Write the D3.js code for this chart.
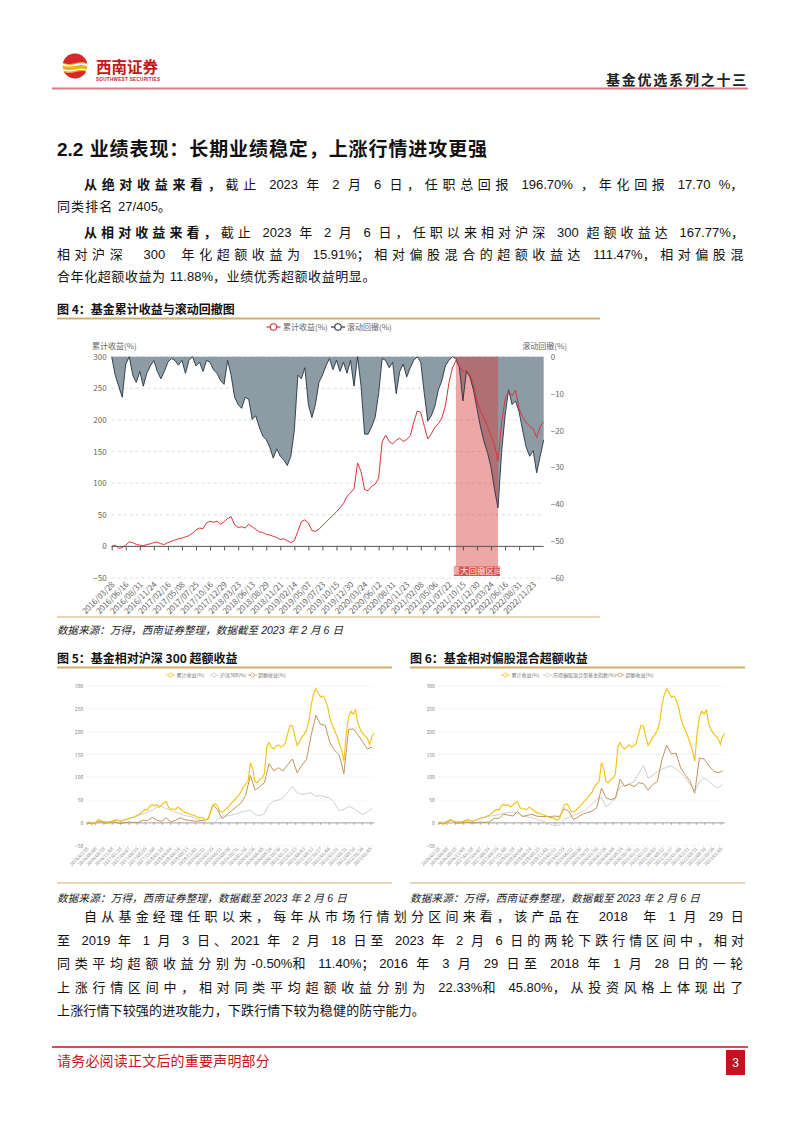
<!DOCTYPE html>
<html lang="zh-CN"><head><meta charset="utf-8">
<title>基金累计收益与滚动回撤</title>
<script src="https://cdn.jsdelivr.net/npm/d3@7/dist/d3.min.js"></script>
<style>
html,body{margin:0;padding:0;background:#fff;}
svg{display:block;}
text{white-space:pre;}
</style></head><body>
<svg id="page" width="802" height="1133" viewBox="0 0 802 1133"></svg>
<script>
// ================= DATA =================
// fund cumulative return (%), one value per sample (124 samples, 2016/03/28 .. 2023/02/06)
const cumReturn = [
 0,2,-3,-2,2,7,6,3,2,1,
 3,4,6,7,4,3,6,8,10,12,
 13,15,17,21,26,29,28,37,40,38,
 40,35,39,44,47,34,30,31,29,35,
 31,27,23,22,19,18,16,14,11,12,
 9,6,9,24,39,42,37,25,24,27,
 33,38,44,49,55,61,68,79,85,91,
 132,118,90,88,95,98,108,165,176,166,
 162,168,171,166,169,175,196,214,212,190,
 170,178,188,194,203,222,258,282,294,285,
 276,278,271,256,230,214,203,190,175,160,
 135,195,232,245,238,247,218,205,196,190,
 186,172,190,197];
// rolling drawdown (%), same samples
const drawdown = [
 0,-5,-8,-11,-2,0,-5,-7,-4,-8,
 -4.5,-2.5,-1,-4,-6,-4,-1.5,-0.5,-1,-2.3,
 -1,-4.5,-1,0,-2.5,-1.5,-4,-1,-1.5,-3.6,
 -4.5,-6.5,-7.5,-1,-5,-11,-13,-14,-11,-11.5,
 -17,-16,-19,-21.5,-22.5,-24.5,-27.5,-25,-27,-28,
 -29.5,-27,-20,-5,-6,-3,-13,-16.5,-13,-7,
 -5,-2.5,-0.5,-3.5,-1,-4,-1.5,-4.5,-1,-8,
 0,-8,-21,-21,-19,-16.5,-10,-0.5,-1,-3,
 -1.5,-10,-4,-2,-5.5,-3,-1,0,-1.5,-10,
 -17.5,-16,-13.5,-9,-6.5,-2.5,-1,0,-0.5,-3,
 -12,-4,-5.5,-9,-14,-19,-23,-26,-30,-36,
 -41,-26,-16,-9,-13,-12,-15,-20,-24.5,-27,
 -25.5,-31.5,-27,-22.6];
// every second sample (62 values)
const hs300 = [
 0,-1,1,3,3,2,4,5,6,8, 12,16,20,23,28,34,36,31,28,23,
 20,16,14,12,7,3,0,-4,8,15, 15,17,20,24,25,28,18,16,20,40,
 48,50,55,68,80,66,62,64,66,58, 60,57,54,44,26,30,36,32,25,18,
 24,32];
const excessVsHs300 = [
 0,-2,1,3,-1,1,2,-1,0,2, 1,1,6,5,12,6,3,11,2,6,
 11,7,5,4,4,6,9,40,29,9, 18,27,35,44,60,104,72,79,88,130,
 114,121,114,128,140,110,126,139,192,236, 216,214,176,159,149,108,205,206,193,178,
 162,166];
const mixFundIndex = [
 0,-1,-2,1,3,3,4,4,6,8, 12,15,16,18,21,23,24,22,16,13,
 12,8,5,2,-3,-6,-5,8,12,17, 20,25,32,42,52,56,35,44,54,80,
 82,86,90,108,126,98,104,112,118,122, 125,118,110,98,84,70,90,98,92,82,
 76,84];
const excessVsMix = [
 0,-2,4,5,-1,0,2,0,0,2, 1,2,10,10,19,17,15,25,14,16,
 19,15,14,14,14,15,14,31,25,7, 13,19,23,26,33,76,55,51,54,96,
 80,85,79,88,86,72,84,91,140,170, 151,153,120,105,91,65,142,140,126,114,
 110,114];
const fig4Dates = ["2016/03/28","2016/06/16","2016/08/31","2016/11/24","2017/02/16","2017/05/08","2017/07/25","2017/10/16","2017/12/29","2018/03/23","2018/06/13","2018/08/29","2018/11/21","2019/02/14","2019/05/07","2019/07/23","2019/10/15","2019/12/30","2020/03/24","2020/06/12","2020/08/31","2020/11/23","2021/02/08","2021/05/06","2021/07/22","2021/10/15","2021/12/30","2022/03/24","2022/06/16","2022/08/31","2022/11/23"];
const fig56Dates = ["2016/03/28","2016/06/08","2016/08/18","2016/11/08","2017/01/18","2017/04/07","2017/06/19","2017/08/29","2017/11/08","2018/01/18","2018/04/04","2018/06/14","2018/08/23","2018/11/01","2019/01/11","2019/03/29","2019/06/11","2019/08/20","2019/10/31","2020/01/10","2020/03/26","2020/06/05","2020/08/14","2020/10/30","2021/01/11","2021/03/23","2021/06/03","2021/08/12","2021/10/27","2022/01/06","2022/03/21","2022/05/31","2022/08/10","2022/10/26","2023/01/05"];
const fig4LeftTicks = [300,250,200,150,100,50,0,-50];
const fig4RightTicks = [0,-10,-20,-30,-40,-50,-60];
const fig56Ticks = [300,250,200,150,100,50,0,-50];
const maxDrawdownSpan = [98, 110]; // sample index of peak and trough

// ================= PAGE =================
const svg = d3.select("#page");
const BODY = "'Liberation Sans','Noto Sans CJK SC',sans-serif";
const SANS = "'Noto Sans CJK SC','Noto Sans',sans-serif";
const STRETCH = /[\u2e80-\u9fff\u3000-\u303f\uff00-\uffef ]+|[^\u2e80-\u9fff\u3000-\u303f\uff00-\uffef ]+/g;
const ISSTRETCH = /^[\u2e80-\u9fff\u3000-\u303f\uff00-\uffef ]/;

function textLine(x, y, segs, o) {
  o = o || {};
  const t = svg.append("text").attr("x", x).attr("y", y)
    .attr("font-family", o.family || BODY).attr("font-size", o.size || 13)
    .attr("fill", o.color || "#111");
  if (o.italic) t.attr("font-style", "italic");
  if (o.weight) t.attr("font-weight", o.weight);
  if (o.anchor) t.attr("text-anchor", o.anchor);
  segs.forEach(s => {
    const str = typeof s === "string" ? s : s.t;
    (str.match(STRETCH) || []).forEach(run => {
      const sp = t.append("tspan").text(run);
      if (s.b) sp.attr("font-weight", 700);
      if (ISSTRETCH.test(run)) sp.attr("data-s", 1);
    });
  });
  if (o.width) {
    const w = t.node().getComputedTextLength();
    const extra = o.width - w;
    let n = 0;
    t.selectAll("tspan[data-s]").each(function () { n += this.textContent.length; });
    if (extra > 0 && n > 0) t.selectAll("tspan[data-s]").attr("letter-spacing", extra / n);
    else if (extra < 0) t.attr("textLength", o.width).attr("lengthAdjust", "spacingAndGlyphs");
  }
  return t;
}

// ---- header ----
const logo = svg.append("g").attr("transform", "translate(75,66)");
logo.append("clipPath").attr("id", "lc").append("circle").attr("r", 12.5);
const lg = logo.append("g").attr("clip-path", "url(#lc)");
lg.append("circle").attr("r", 12.5).attr("fill", "#f0ae1e");
lg.append("path").attr("d", "M-13,-13 L13,-13 L13,-2 C6,-8 -4,2 -13,-4 Z").attr("fill", "#d8262d");
lg.append("path").attr("d", "M-13,5 C-4,11 6,1 13,7 L13,13 L-13,13 Z").attr("fill", "#d8262d");
lg.append("path").attr("d", "M-13,-2 C-4,4 5,-6 13,0").attr("stroke", "#fff").attr("stroke-width", 1.6).attr("fill", "none");
lg.append("path").attr("d", "M-13,3 C-4,9 5,-1 13,5").attr("stroke", "#fff").attr("stroke-width", 1.2).attr("fill", "none");
textLine(96, 73, ["西南证券"], {size: 16, weight: 700, color: "#c8161d", width: 62, family: SANS});
textLine(96, 80.5, ["SOUTHWEST SECURITIES"], {size: 4.6, weight: 700, color: "#c8161d", family: "'Liberation Sans',sans-serif"}).attr("textLength", 64);
textLine(606, 85, ["基金优选系列之十三"], {size: 14, weight: 700, color: "#222", width: 142, family: SANS});
svg.append("line").attr("x1", 52).attr("x2", 748).attr("y1", 88.5).attr("y2", 88.5).attr("stroke", "#e07a85").attr("stroke-width", 2);

// ---- title and body ----
textLine(57, 156, [{t: "2.2 ", b: 1}, {t: "业绩表现：长期业绩稳定，上涨行情进攻更强", b: 1}], {size: 19, width: 431});
textLine(84, 189, [{t: "从绝对收益来看，", b: 1}, "截止 2023 年 2 月 6 日，任职总回报 196.70% ，年化回报 17.70 %，"], {width: 664});
textLine(57, 211, ["同类排名 27/405。"], {width: 115});
textLine(84, 237, [{t: "从相对收益来看，", b: 1}, "截止 2023 年 2 月 6 日，任职以来相对沪深 300 超额收益达 167.77%，"], {width: 664});
textLine(57, 259, ["相对沪深  300  年化超额收益为 15.91%；相对偏股混合的超额收益达 111.47%，相对偏股混"], {width: 691});
textLine(57, 281, ["合年化超额收益为 11.88%，业绩优秀超额收益明显。"], {width: 319});

// figure titles + frames
const GOLD = "#d2ae6c";
textLine(57, 314, [{t: "图 4：基金累计收益与滚动回撤图", b: 1}], {size: 12, family: SANS});
svg.append("line").attr("x1", 57).attr("x2", 600).attr("y1", 318.5).attr("y2", 318.5).attr("stroke", GOLD).attr("stroke-width", 1.8);
svg.append("line").attr("x1", 57).attr("x2", 600).attr("y1", 617).attr("y2", 617).attr("stroke", GOLD).attr("stroke-width", 1.2);
textLine(57, 634, ["数据来源：万得，西南证券整理，数据截至 2023 年 2 月 6 日"], {size: 10.5, italic: true, width: 286, color: "#222"});

textLine(57, 663, [{t: "图 5：基金相对沪深 300 超额收益", b: 1}], {size: 12, family: SANS});
textLine(410, 663, [{t: "图 6：基金相对偏股混合超额收益", b: 1}], {size: 12, family: SANS});
[[57, 392], [410, 745]].forEach(([a, b]) => {
  svg.append("line").attr("x1", a).attr("x2", b).attr("y1", 667.5).attr("y2", 667.5).attr("stroke", GOLD).attr("stroke-width", 1.8);
  svg.append("line").attr("x1", a).attr("x2", b).attr("y1", 883).attr("y2", 883).attr("stroke", GOLD).attr("stroke-width", 1.2);
});
textLine(57, 902, ["数据来源：万得，西南证券整理，数据截至 2023 年 2 月 6 日"], {size: 10.5, italic: true, width: 290, color: "#222"});
textLine(410, 902, ["数据来源：万得，西南证券整理，数据截至 2023 年 2 月 6 日"], {size: 10.5, italic: true, width: 290, color: "#222"});

textLine(84, 921, ["自从基金经理任职以来，每年从市场行情划分区间来看，该产品在  2018  年 1 月 29 日"], {width: 664});
textLine(57, 945, ["至 2019 年 1 月 3 日、2021 年 2 月 18 日至 2023 年 2 月 6 日的两轮下跌行情区间中，相对"], {width: 691});
textLine(57, 968, ["同类平均超额收益分别为-0.50%和 11.40%；2016 年 3 月 29 日至 2018 年 1 月 28 日的一轮"], {width: 691});
textLine(57, 992, ["上涨行情区间中，相对同类平均超额收益分别为 22.33%和 45.80%，从投资风格上体现出了"], {width: 691});
textLine(57, 1015, ["上涨行情下较强的进攻能力，下跌行情下较为稳健的防守能力。"], {width: 368});

// footer
svg.append("line").attr("x1", 52).attr("x2", 748).attr("y1", 1047).attr("y2", 1047).attr("stroke", "#c9141f").attr("stroke-width", 1.3);
textLine(57, 1066, ["请务必阅读正文后的重要声明部分"], {size: 14, color: "#c9141f", width: 213, family: SANS});
svg.append("rect").attr("x", 726).attr("y", 1050).attr("width", 19).attr("height", 25).attr("fill", "#c0141e");
textLine(735.5, 1067, ["3"], {size: 12, color: "#fff", anchor: "middle", family: "'Liberation Sans',sans-serif"});

// ================= FIGURE 4 =================
(function fig4() {
  const N = cumReturn.length;
  const x = d3.scaleLinear([0, N - 1], [111.7, 543.7]);
  const yL = d3.scaleLinear([-50, 300], [578, 356.7]);
  const yR = d3.scaleLinear([-60, 0], [578, 356.7]);
  const g = svg.append("g");
  const tickFont = 8, tickCol = "#666";

  g.selectAll(".grid").data(fig4LeftTicks.filter(v => v !== 0)).join("line")
    .attr("x1", x(0)).attr("x2", x(N - 1)).attr("y1", d => yL(d)).attr("y2", d => yL(d))
    .attr("stroke", "#d6d6d6").attr("stroke-dasharray", "3,3").attr("stroke-width", 0.8);

  g.append("g").attr("transform", `translate(${x(0)},0)`)
    .call(d3.axisLeft(yL).tickValues(fig4LeftTicks).tickSize(0).tickPadding(5))
    .call(s => s.select(".domain").remove())
    .selectAll("text").attr("font-size", tickFont).attr("fill", tickCol).attr("font-family", SANS);
  g.append("g").attr("transform", `translate(${x(N - 1)},0)`)
    .call(d3.axisRight(yR).tickValues(fig4RightTicks).tickSize(0).tickPadding(7))
    .call(s => s.select(".domain").remove())
    .selectAll("text").attr("font-size", tickFont).attr("fill", tickCol).attr("font-family", SANS);

  g.append("path").datum(drawdown)
    .attr("d", d3.area().x((d, i) => x(i)).y0(yR(0)).y1(d => yR(d)))
    .attr("fill", "#8d9ba5");

  const sx0 = x(maxDrawdownSpan[0]), sx1 = x(maxDrawdownSpan[1]);
  g.append("rect").attr("x", sx0).attr("y", yR(0)).attr("width", sx1 - sx0).attr("height", 576 - yR(0))
    .attr("fill", "rgba(214,60,60,0.45)");
  g.append("rect").attr("x", sx0 - 2).attr("y", 566.5).attr("width", sx1 - sx0 + 4).attr("height", 9.5)
    .attr("fill", "#d9534f");
  g.append("text").attr("x", (sx0 + sx1) / 2).attr("y", 574.3).attr("text-anchor", "middle")
    .attr("font-size", 8.5).attr("font-family", SANS).attr("fill", "#fbe3e3").text("最大回撤区间");

  g.append("path").datum(drawdown)
    .attr("d", d3.line().x((d, i) => x(i)).y(d => yR(d)))
    .attr("fill", "none").attr("stroke", "#253443").attr("stroke-width", 0.9);
  g.append("path").datum(cumReturn)
    .attr("d", d3.line().x((d, i) => x(i)).y(d => yL(d)))
    .attr("fill", "none").attr("stroke", "#d8343c").attr("stroke-width", 1);

  const tickIdx = fig4Dates.map((d, k) => k * 4);
  g.append("g").attr("transform", `translate(0,${yL(0)})`)
    .call(d3.axisBottom(x).tickValues(tickIdx).tickSize(4).tickFormat(""))
    .call(s => { s.select(".domain").attr("stroke", "#555").attr("d", `M${x(0)},0H${x(N - 1)}`); s.selectAll("line").attr("stroke", "#555"); });
  const lab = g.append("g").attr("transform", `translate(0,${yL(-50)})`)
    .call(d3.axisBottom(x).tickValues(tickIdx).tickSize(0).tickFormat((d, k) => fig4Dates[k]));
  lab.select(".domain").remove();
  lab.selectAll("text").attr("y", 0).attr("dy", 0).attr("x", 0)
    .attr("transform", "translate(3,7) rotate(-45)").attr("text-anchor", "end")
    .attr("font-size", tickFont).attr("fill", tickCol).attr("font-family", SANS);

  g.append("text").attr("x", 92).attr("y", 349).attr("font-size", 8).attr("fill", tickCol).attr("font-family", SANS).text("累计收益(%)");
  g.append("text").attr("x", 567).attr("y", 349).attr("text-anchor", "end").attr("font-size", 8).attr("fill", tickCol).attr("font-family", SANS).text("滚动回撤(%)");

  const leg = [{name: "累计收益(%)", c: "#d8343c", mx: 273.5, tx: 283}, {name: "滚动回撤(%)", c: "#253443", mx: 338, tx: 347}];
  const lgG = g.selectAll(".leg").data(leg).join("g");
  lgG.append("line").attr("x1", d => d.mx - 7).attr("x2", d => d.mx + 7).attr("y1", 327).attr("y2", 327).attr("stroke", d => d.c).attr("stroke-width", 1.2);
  lgG.append("circle").attr("cx", d => d.mx).attr("cy", 327).attr("r", 3.2).attr("fill", "#fff").attr("stroke", d => d.c).attr("stroke-width", 1.1);
  lgG.append("text").attr("x", d => d.tx).attr("y", 330).attr("font-size", 8).attr("fill", tickCol).attr("font-family", SANS).text(d => d.name);
})();

// ================= FIGURES 5 & 6 =================
function smallChart(cfg) {
  const N = cumReturn.length;
  const x = d3.scaleLinear([0, N - 1], [cfg.x0, cfg.x1]);
  const y = d3.scaleLinear([-50, 300], [845.7, 686]);
  const g = svg.append("g");
  const col = "#888";
  g.selectAll(".grid").data(fig56Ticks.filter(v => v !== 0)).join("line")
    .attr("x1", cfg.x0).attr("x2", cfg.x1).attr("y1", d => y(d)).attr("y2", d => y(d))
    .attr("stroke", "#e2e2e2").attr("stroke-dasharray", "2,2").attr("stroke-width", 0.6);
  g.append("g").attr("transform", `translate(${cfg.x0},0)`)
    .call(d3.axisLeft(y).tickValues(fig56Ticks).tickSize(0).tickPadding(3.5))
    .call(s => s.select(".domain").remove())
    .selectAll("text").attr("font-size", 5).attr("fill", col).attr("font-family", SANS);

  const step = (N - 1) / 34.5;
  const tickIdx = fig56Dates.map((d, k) => k * step);
  g.append("g").attr("transform", `translate(0,${y(0)})`)
    .call(d3.axisBottom(x).tickValues(tickIdx).tickSize(2).tickFormat(""))
    .call(s => { s.select(".domain").attr("stroke", "#777").attr("stroke-width", 0.7).attr("d", `M${cfg.x0},0H${cfg.x1}`); s.selectAll("line").attr("stroke", "#777").attr("stroke-width", 0.6); });
  const lab = g.append("g").attr("transform", `translate(0,${y(-50)})`)
    .call(d3.axisBottom(x).tickValues(tickIdx).tickSize(0).tickFormat((d, k) => fig56Dates[k]));
  lab.select(".domain").remove();
  lab.selectAll("text").attr("y", 0).attr("dy", 0).attr("x", 0)
    .attr("transform", "translate(1.5,3.5) rotate(-45)").attr("text-anchor", "end")
    .attr("font-size", 4.6).attr("fill", col).attr("font-family", SANS);

  const half = d3.line().x((d, j) => x(j * 2)).y(d => y(d));
  g.append("path").datum(cfg.bench).attr("d", half).attr("fill", "none").attr("stroke", "#c9c9c9").attr("stroke-width", 0.9);
  g.append("path").datum(cfg.excess).attr("d", half).attr("fill", "none").attr("stroke", "#c2935d").attr("stroke-width", 1);
  g.append("path").datum(cumReturn).attr("d", d3.line().x((d, i) => x(i)).y(d => y(d)))
    .attr("fill", "none").attr("stroke", "#f3c10f").attr("stroke-width", 1.1);

  const lgG = g.selectAll(".leg").data(cfg.legend).join("g");
  lgG.append("line").attr("x1", d => d.mx - 4.5).attr("x2", d => d.mx + 4.5).attr("y1", 675).attr("y2", 675).attr("stroke", d => d.c).attr("stroke-width", 0.8);
  lgG.append("circle").attr("cx", d => d.mx).attr("cy", 675).attr("r", 2).attr("fill", "#fff").attr("stroke", d => d.c).attr("stroke-width", 0.7);
  lgG.append("text").attr("x", d => d.tx).attr("y", 676.8).attr("font-size", 5).attr("fill", "#777").attr("font-family", SANS).text(d => d.name);
}
smallChart({x0: 86.7, x1: 374.3, bench: hs300, excess: excessVsHs300,
  legend: [{name: "累计收益(%)", c: "#f3c10f", mx: 170.5, tx: 176.5}, {name: "沪深300(%)", c: "#c9c9c9", mx: 214, tx: 220}, {name: "超额收益(%)", c: "#c2935d", mx: 252.5, tx: 258}]});
smallChart({x0: 438.3, x1: 725, bench: mixFundIndex, excess: excessVsMix,
  legend: [{name: "累计收益(%)", c: "#f3c10f", mx: 505.5, tx: 511.5}, {name: "万得偏股混合型基金指数(%)", c: "#c9c9c9", mx: 547.5, tx: 553}, {name: "超额收益(%)", c: "#c2935d", mx: 620, tx: 625.5}]});
</script>
</body></html>
